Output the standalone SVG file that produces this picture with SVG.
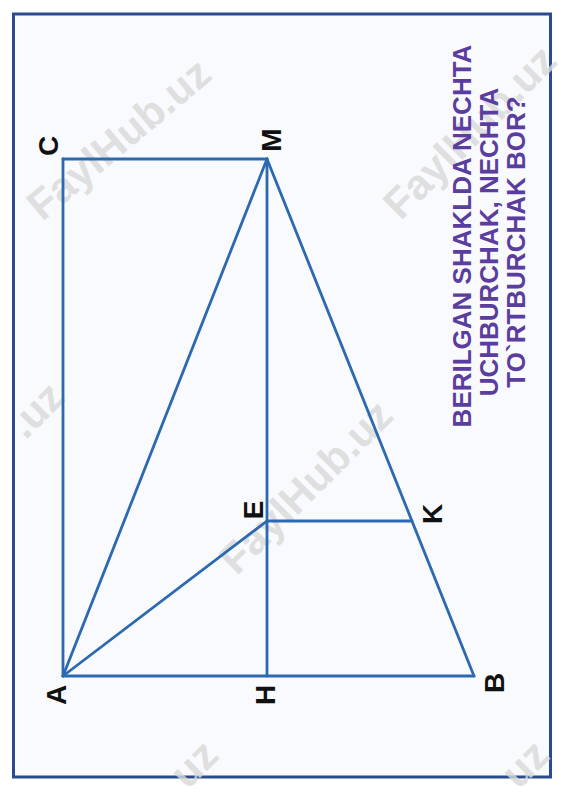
<svg xmlns="http://www.w3.org/2000/svg" width="565" height="800" viewBox="0 0 565 800">
<style>
.ln{stroke:#2c69b0;stroke-width:2.8;fill:none;stroke-linecap:round;stroke-linejoin:round}
.lbl{font-family:"Liberation Sans",Arial,sans-serif;font-weight:bold;font-size:28px;fill:#111;text-anchor:middle}
.q{font-family:"Liberation Sans",Arial,sans-serif;font-weight:bold;font-size:26px;fill:#5a3d9e;text-anchor:middle}
.wm{font-family:"Liberation Sans",Arial,sans-serif;font-weight:bold;font-size:42px;fill:#d9d9d9;text-anchor:middle;opacity:0.8}
</style>
<rect x="0" y="0" width="565" height="800" fill="#ffffff"/>
<rect x="13.5" y="14" width="537" height="763" fill="#f8fafd" stroke="#2a4c8c" stroke-width="3"/>
<g id="watermarks">
<text class="wm" transform="translate(128,150) rotate(-40)">FaylHub.uz</text>
<text class="wm" transform="translate(480,142) rotate(-45)">FaylHub.uz</text>
<text class="wm" transform="translate(316,497) rotate(-45)">FaylHub.uz</text>
<text class="wm" transform="translate(46,420) rotate(-45)">.uz</text>
<text class="wm" transform="translate(204,774) rotate(-45)">uz</text>
<text class="wm" transform="translate(535,774) rotate(-45)">uz</text>
</g>
<g id="connectors">
<line class="ln" x1="63" y1="159" x2="63" y2="676"/>
<line class="ln" x1="63" y1="159" x2="267" y2="159"/>
<line class="ln" x1="63" y1="676" x2="474" y2="676"/>
<line class="ln" x1="63" y1="676" x2="267" y2="159"/>
<line class="ln" x1="267" y1="159" x2="267" y2="676"/>
<line class="ln" x1="267" y1="159" x2="474" y2="676"/>
<line class="ln" x1="63" y1="676" x2="267" y2="521"/>
<line class="ln" x1="267" y1="521" x2="412" y2="521"/>
</g>
<g id="node-C"><text class="lbl" transform="translate(48,146) rotate(-90)" y="10">C</text></g>
<g id="node-M"><text class="lbl" transform="translate(271,140) rotate(-90)" y="10">M</text></g>
<g id="node-A"><text class="lbl" transform="translate(56,695) rotate(-90)" y="10">A</text></g>
<g id="node-H"><text class="lbl" transform="translate(265,695) rotate(-90)" y="10">H</text></g>
<g id="node-B"><text class="lbl" transform="translate(494,683) rotate(-90)" y="10">B</text></g>
<g id="node-E"><text class="lbl" transform="translate(253,510) rotate(-90)" y="10">E</text></g>
<g id="node-K"><text class="lbl" transform="translate(432,514) rotate(-90)" y="10">K</text></g>
<g id="question">
<text class="q" transform="translate(471,236) rotate(-90)">BERILGAN SHAKLDA NECHTA</text>
<text class="q" transform="translate(498,242) rotate(-90)">UCHBURCHAK, NECHTA</text>
<text class="q" transform="translate(525,242) rotate(-90)">TO`RTBURCHAK BOR?</text>
</g>
</svg>
